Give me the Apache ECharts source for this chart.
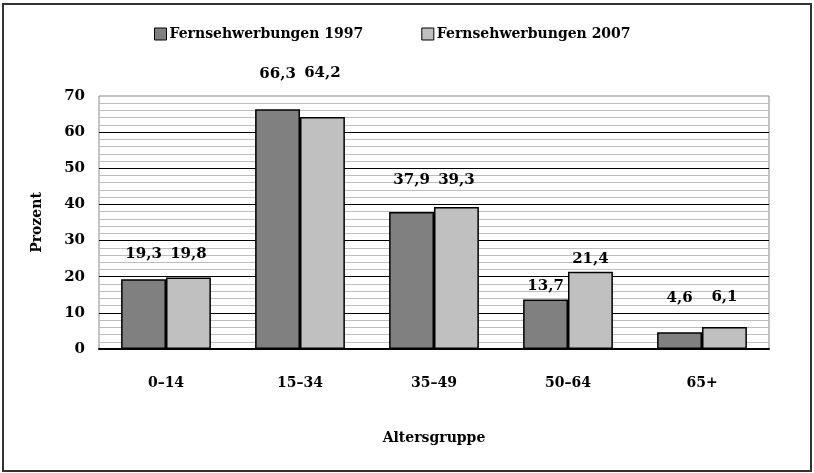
<!DOCTYPE html>
<html>
<head>
<meta charset="utf-8">
<script src="https://cdn.jsdelivr.net/npm/echarts@6/dist/echarts.min.js"></script>
<style>
    html, body { margin: 0; padding: 0; background: #fff; }
    #chart { width: 814px; height: 473px; }
</style>
</head>
<body>
<div id="chart"></div>
<script>
// Daten
var categories = ["0–14", "15–34", "35–49", "50–64", "65+"];
var values1997 = [19.3, 66.3, 37.9, 13.7, 4.6];
var values2007 = [19.8, 64.2, 39.3, 21.4, 6.1];
var seriesNames = ["Fernsehwerbungen 1997", "Fernsehwerbungen 2007"];
// Abstand der Beschriftung über dem Balken (Stil, px)
var labelGap1997 = [18, 28, 24, 6, 27];
var labelGap2007 = [16, 36, 19, 5, 22];

var font = "DejaVu Serif";

function buildData(values, gaps) {
    return values.map(function (v, i) {
        return { value: v, label: { distance: gaps[i] } };
    });
}

var labelStyle = {
    show: true,
    position: "top",
    fontFamily: font,
    fontWeight: "bold",
    fontSize: 15,
    color: "#000",
    formatter: function (p) {
        return String(p.value).replace(".", ",");
    }
};

var chart = echarts.init(document.getElementById("chart"));
chart.setOption({
    backgroundColor: "#fff",
    animation: false,
    textStyle: { fontFamily: font, fontWeight: "bold", color: "#000" },
    graphic: [{
        type: "rect",
        shape: { x: 3, y: 4, width: 808, height: 467 },
        style: { fill: "none", stroke: "#333", lineWidth: 2 },
        z: 100
    }],
    legend: {
        top: 22,
        left: 149,
        itemWidth: 12,
        itemHeight: 12,
        itemGap: 58,
        icon: "rect",
        itemStyle: { borderColor: "#000", borderWidth: 1 },
        textStyle: { fontFamily: font, fontWeight: "bold", fontSize: 14, color: "#000", padding: [0, 0, 0, -2] },
        data: seriesNames
    },
    grid: {
        left: 99,
        right: 45,
        top: 96,
        bottom: 124,
        show: true,
        borderColor: "#888",
        borderWidth: 1
    },
    xAxis: {
        type: "category",
        data: categories,
        name: "Altersgruppe",
        nameLocation: "middle",
        nameGap: 82,
        nameTextStyle: { fontFamily: font, fontWeight: "bold", fontSize: 14, color: "#000", verticalAlign: "top" },
        axisLine: { lineStyle: { color: "#000", width: 2 } },
        axisTick: { show: false },
        axisLabel: { margin: 27, fontFamily: font, fontWeight: "bold", fontSize: 14, color: "#000" }
    },
    yAxis: {
        type: "value",
        min: 0,
        max: 70,
        interval: 10,
        name: "Prozent",
        nameLocation: "middle",
        nameRotate: 90,
        nameGap: 55,
        nameTextStyle: { fontFamily: font, fontWeight: "bold", fontSize: 14, color: "#000" },
        axisLine: { show: false },
        axisTick: { show: false },
        axisLabel: { margin: 14, fontFamily: font, fontWeight: "bold", fontSize: 15, color: "#000" },
        splitLine: { show: true, showMinLine: false, showMaxLine: false, lineStyle: { color: "#000", width: 1 } },
        minorTick: { show: false, splitNumber: 5 },
        minorSplitLine: { show: true, lineStyle: { color: "#bdbdbd", width: 1 } }
    },
    series: [{
        name: seriesNames[0],
        type: "bar",
        data: buildData(values1997, labelGap1997),
        barGap: "0%",
        barCategoryGap: "33%",
        itemStyle: { color: "#808080", borderColor: "#000", borderWidth: 1.5 },
        label: labelStyle
    }, {
        name: seriesNames[1],
        type: "bar",
        data: buildData(values2007, labelGap2007),
        barGap: "0%",
        barCategoryGap: "33%",
        itemStyle: { color: "#c0c0c0", borderColor: "#000", borderWidth: 1.5 },
        label: labelStyle
    }]
});
</script>
</body>
</html>
